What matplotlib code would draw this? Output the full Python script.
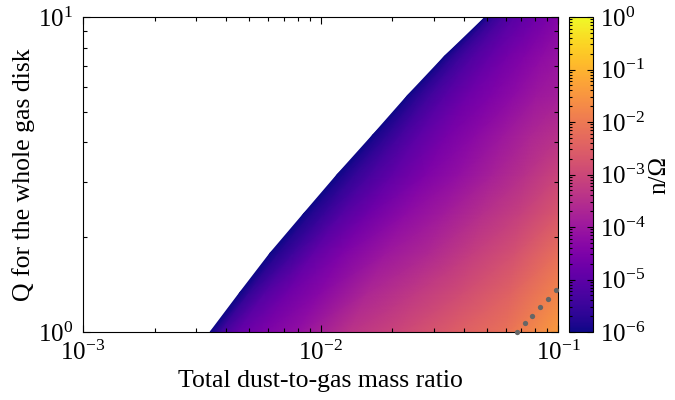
import numpy as np
import matplotlib
matplotlib.use("Agg")
import matplotlib.pyplot as plt
from matplotlib.colors import LogNorm
from matplotlib.ticker import LogLocator, NullFormatter

plt.rcParams['font.family'] = ['Liberation Serif', 'DejaVu Serif']
plt.rcParams['mathtext.fontset'] = 'stix'

# Toomre Q rows and the dust-to-gas ratio where growth starts (white area is stable)
q_rows = [1.0, 1.334, 1.778, 2.371, 3.162, 4.217, 5.623, 7.499, 10.0]
edge_ratio = [0.003428, 0.004571, 0.006124, 0.008472, 0.011749,
              0.016558, 0.023174, 0.033189, 0.049317]

# columns: fraction of the way from the stability edge to ratio = 0.1
frac_from_edge = [0.0, 0.03, 0.08, 0.15, 0.25, 0.4, 0.55, 0.7, 0.85, 1.0]

# log10(n/Omega), one row per Q
log_growth = [
    [-6.0, -5.45, -4.9, -4.55, -4.15, -3.4, -3.0, -2.55, -2.15, -1.4],
    [-6.0, -5.6, -5.15, -4.75, -4.35, -3.7, -3.3, -2.9, -2.45, -1.8],
    [-6.0, -5.75, -5.45, -4.95, -4.5, -4.0, -3.65, -3.2, -2.8, -2.2],
    [-6.0, -5.8, -5.55, -5.15, -4.75, -4.25, -3.9, -3.5, -3.15, -2.65],
    [-6.0, -5.85, -5.6, -5.3, -4.95, -4.5, -4.15, -3.8, -3.45, -3.06],
    [-6.0, -5.85, -5.65, -5.35, -5.0, -4.6, -4.3, -4.0, -3.7, -3.45],
    [-6.0, -5.85, -5.65, -5.4, -5.1, -4.75, -4.5, -4.25, -4.0, -3.85],
    [-6.0, -5.85, -5.65, -5.45, -5.2, -4.9, -4.65, -4.45, -4.25, -4.1],
    [-6.0, -5.85, -5.65, -5.5, -5.3, -5.05, -4.9, -4.75, -4.6, -4.4],
]

# grey dotted curve in the lower right corner
dot_ratio = [0.0671, 0.0726, 0.0778, 0.084, 0.0907, 0.0982]
dot_q = [1.0, 1.068, 1.124, 1.2, 1.273, 1.36]

x_max = 0.1
le = np.log10(edge_ratio)[:, None]
fr = np.array(frac_from_edge)[None, :]
X = 10 ** (le + fr * (np.log10(x_max) - le))
Y = np.repeat(np.array(q_rows)[:, None], len(frac_from_edge), axis=1)
C = 10.0 ** np.array(log_growth)

fig = plt.figure(figsize=(6.75, 4), dpi=100)
ax = fig.add_axes([0.123, 0.17, 0.704, 0.7875])
cax = fig.add_axes([0.843, 0.17, 0.036, 0.7875])

pc = ax.pcolormesh(X, Y, C, shading='gouraud', cmap='plasma',
                   norm=LogNorm(vmin=1e-6, vmax=1.0))
ax.plot(dot_ratio, dot_q, 'o', color='#666666', markersize=3.8,
        markeredgewidth=0, clip_on=False, zorder=5)

ax.set_xscale('log')
ax.set_yscale('log')
ax.set_xlim(1e-3, 1e-1)
ax.set_ylim(1, 10)
ax.set_xlabel('Total dust-to-gas mass ratio', fontsize=18.5, labelpad=4)
ax.set_ylabel('Q for the whole gas disk', fontsize=18.5, labelpad=2)
ax.yaxis.set_minor_formatter(NullFormatter())
ax.xaxis.set_minor_formatter(NullFormatter())
ax.tick_params(which='both', direction='in', top=True, right=True,
               labelsize=18, width=0.8)
ax.tick_params(which='major', length=5)
ax.tick_params(which='minor', length=3)
ax.tick_params(axis='x', which='major', pad=6)
ax.tick_params(axis='y', which='major', pad=7)
for s in ax.spines.values():
    s.set_linewidth(0.8)

cb = fig.colorbar(pc, cax=cax)
cb.ax.yaxis.set_major_locator(LogLocator(base=10, numticks=10))
cb.ax.yaxis.set_minor_locator(LogLocator(base=10, subs=np.arange(2, 10), numticks=10))
cb.ax.yaxis.set_minor_formatter(NullFormatter())
cb.ax.tick_params(which='both', direction='in', left=True, right=True,
                  labelsize=18, width=0.8)
cb.ax.tick_params(which='major', length=4, pad=5)
cb.ax.tick_params(which='minor', length=2)
cb.outline.set_linewidth(0.8)
cb.set_label('n/Ω', fontsize=18, labelpad=2)

fig.savefig('out.png', dpi=100)
